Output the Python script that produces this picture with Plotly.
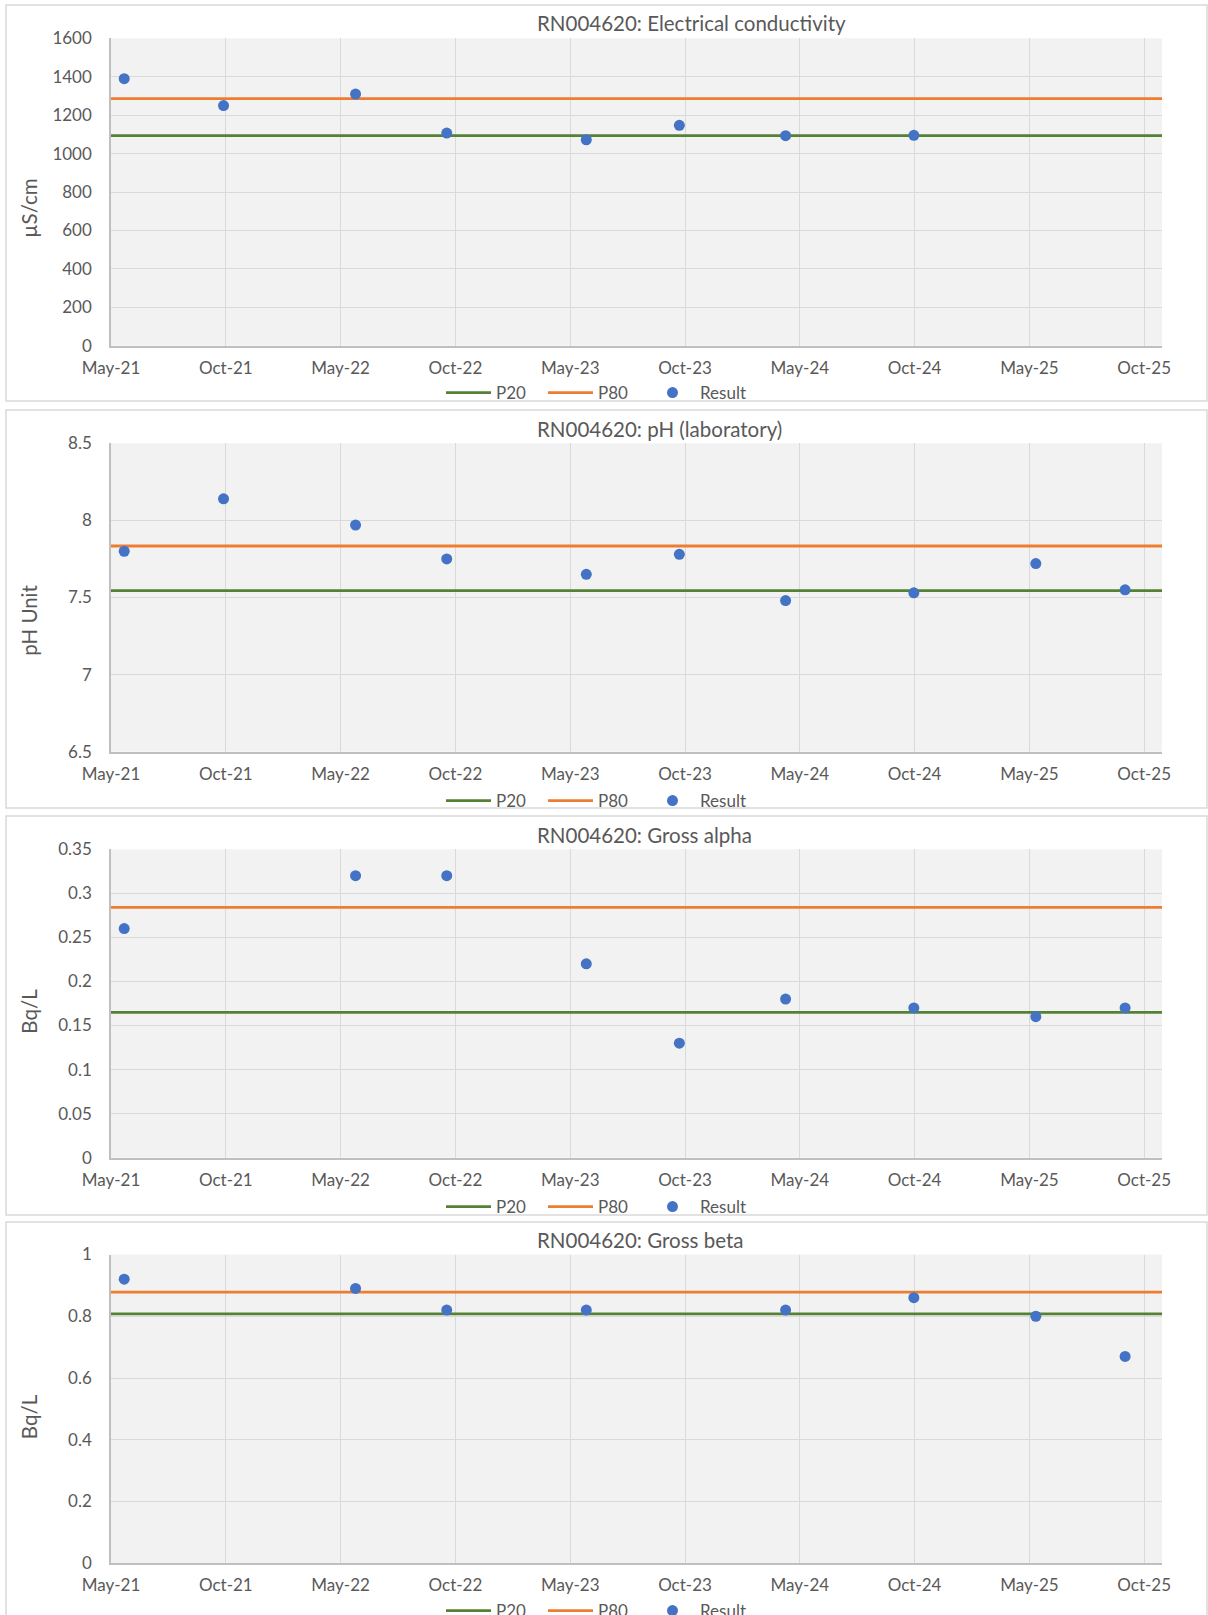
import plotly.graph_objects as go
import pandas as pd

W, H = 1208, 1615

# ---------------- data ----------------
tick_labels = ["May-21", "Oct-21", "May-22", "Oct-22", "May-23",
               "Oct-23", "May-24", "Oct-24", "May-25", "Oct-25"]

sample_dates = ["2021-05-22", "2021-10-27", "2022-05-25", "2022-10-17", "2023-05-27",
                "2023-10-22", "2024-04-08", "2024-10-29", "2025-05-11", "2025-09-30"]

ec_dates = ["2021-05-22", "2021-10-27", "2022-05-25", "2022-10-17", "2023-05-27",
            "2023-10-22", "2024-04-08", "2024-10-29"]
ec_values = [1390, 1250, 1310, 1107, 1072, 1147, 1093, 1095]
ec_p20, ec_p80 = 1093, 1286

ph_dates = sample_dates
ph_values = [7.80, 8.14, 7.97, 7.75, 7.65, 7.78, 7.48, 7.53, 7.72, 7.55]
ph_p20, ph_p80 = 7.544, 7.834

alpha_dates = ["2021-05-22", "2022-05-25", "2022-10-17", "2023-05-27", "2023-10-22",
               "2024-04-08", "2024-10-29", "2025-05-11", "2025-09-30"]
alpha_values = [0.26, 0.32, 0.32, 0.22, 0.13, 0.18, 0.17, 0.16, 0.17]
alpha_p20, alpha_p80 = 0.165, 0.284

beta_dates = ["2021-05-22", "2022-05-25", "2022-10-17", "2023-05-27",
              "2024-04-08", "2024-10-29", "2025-05-11", "2025-09-30"]
beta_values = [0.92, 0.89, 0.82, 0.82, 0.82, 0.86, 0.80, 0.67]
beta_p20, beta_p80 = 0.808, 0.878

titles = ["RN004620: Electrical conductivity", "RN004620: pH (laboratory)",
          "RN004620: Gross alpha", "RN004620: Gross beta"]
units = ["µS/cm", "pH Unit", "Bq/L", "Bq/L"]
y_ranges = [(0, 1600), (6.5, 8.5), (0, 0.35), (0, 1)]
y_dticks = [200, 0.5, 0.05, 0.2]

panels = [
    (ec_dates, ec_values, ec_p20, ec_p80),
    (ph_dates, ph_values, ph_p20, ph_p80),
    (alpha_dates, alpha_values, alpha_p20, alpha_p80),
    (beta_dates, beta_values, beta_p20, beta_p80),
]

# ---------------- axis scale ----------------
axis_start = pd.Timestamp("2021-05-01")
tick_step_days = 182.6
axis_span_days = 1671.7
tickvals = [(axis_start + pd.Timedelta(days=tick_step_days * k)).strftime("%Y-%m-%d %H:%M:%S")
            for k in range(len(tick_labels))]
x_range = [axis_start.strftime("%Y-%m-%d"),
           (axis_start + pd.Timedelta(days=axis_span_days)).strftime("%Y-%m-%d %H:%M:%S")]

# ---------------- layout geometry (px) ----------------
plot_left, plot_right = 111, 1162
plot_tops = [38.3, 443.3, 849.3, 1254.5]
plot_bottoms = [345.7, 751.7, 1157.7, 1563.3]
panel_boxes = [(5, 401), (410, 808), (816, 1215), (1222, 1625)]
title_y = [23, 429, 835, 1240]
unit_y = [208, 620, 1011, 1416.5]
legend_y = [393, 801, 1207, 1611]

def px_x(v):
    return v / W

def px_y(v):
    return 1 - v / H

TEXT = "#595959"
FONT = "Lato"
GREEN = "#548235"
ORANGE = "#ED7D31"
BLUE = "#4472C4"

fig = go.Figure()
layout = dict(
    width=W, height=H,
    margin=dict(l=0, r=0, t=0, b=0, pad=0, autoexpand=False),
    paper_bgcolor="white",
    plot_bgcolor="#F2F2F2",
    font=dict(family=FONT, color=TEXT, size=17),
    shapes=[], annotations=[],
)

for i, (dts, vals, p20, p80) in enumerate(panels):
    n = i + 1
    xa = "x" if n == 1 else f"x{n}"
    ya = "y" if n == 1 else f"y{n}"
    lg = "legend" if n == 1 else f"legend{n}"

    fig.add_trace(go.Scatter(x=x_range, y=[p20, p20], mode="lines", name="P20",
                             line=dict(color=GREEN, width=2.8), xaxis=xa, yaxis=ya,
                             legend=lg, hoverinfo="skip"))
    fig.add_trace(go.Scatter(x=x_range, y=[p80, p80], mode="lines", name="P80",
                             line=dict(color=ORANGE, width=2.8), xaxis=xa, yaxis=ya,
                             legend=lg, hoverinfo="skip"))
    fig.add_trace(go.Scatter(x=dts, y=vals, mode="markers", name="Result",
                             marker=dict(color=BLUE, size=11), xaxis=xa, yaxis=ya,
                             legend=lg))

    xkey = "xaxis" if n == 1 else f"xaxis{n}"
    ykey = "yaxis" if n == 1 else f"yaxis{n}"
    layout[xkey] = dict(
        domain=[px_x(plot_left), px_x(plot_right)], anchor=ya, type="date",
        range=x_range, tickmode="array", tickvals=tickvals, ticktext=tick_labels,
        showgrid=True, gridcolor="#D9D9D9", gridwidth=1.3,
        showline=True, linecolor="#BFBFBF", linewidth=1.5, zeroline=False,
        ticks="outside", ticklen=6, tickcolor="rgba(0,0,0,0)",
        tickfont=dict(size=17, color=TEXT, family=FONT), fixedrange=True,
    )
    layout[ykey] = dict(
        domain=[px_y(plot_bottoms[i]), px_y(plot_tops[i])], anchor=xa,
        range=list(y_ranges[i]), dtick=y_dticks[i], tick0=y_ranges[i][0],
        showgrid=True, gridcolor="#D9D9D9", gridwidth=1.3,
        showline=True, linecolor="#BFBFBF", linewidth=1.5, zeroline=False,
        ticks="outside", ticklen=14, tickcolor="rgba(0,0,0,0)",
        tickfont=dict(size=17, color=TEXT, family=FONT), fixedrange=True,
    )
    layout[lg] = dict(
        orientation="h", x=px_x(441), xanchor="left", y=px_y(legend_y[i]), yanchor="middle",
        bgcolor="rgba(0,0,0,0)", font=dict(size=17, color=TEXT, family=FONT),
        itemwidth=45, entrywidth=42, entrywidthmode="pixels", traceorder="normal",
    )

    y0, y1 = panel_boxes[i]
    layout["shapes"].append(dict(type="rect", xref="paper", yref="paper",
                                 x0=px_x(6), x1=px_x(1207), y0=px_y(y1), y1=px_y(y0),
                                 line=dict(color="#D9D9D9", width=1.5), layer="below"))
    layout["annotations"].append(dict(text=titles[i], xref="paper", yref="paper",
                                      x=px_x(535), y=px_y(title_y[i]), xanchor="left",
                                      yanchor="middle", showarrow=False,
                                      font=dict(size=20.5, color=TEXT, family=FONT)))
    layout["annotations"].append(dict(text=units[i], xref="paper", yref="paper",
                                      x=px_x(28.7), y=px_y(unit_y[i]), xanchor="center",
                                      yanchor="middle", showarrow=False, textangle=-90,
                                      font=dict(size=20.5, color=TEXT, family=FONT)))

fig.update_layout(**layout)
fig.write_html("out.html", config={"displayModeBar": False},
               post_script="document.body.style.margin='0px';document.body.style.overflow='hidden';")
